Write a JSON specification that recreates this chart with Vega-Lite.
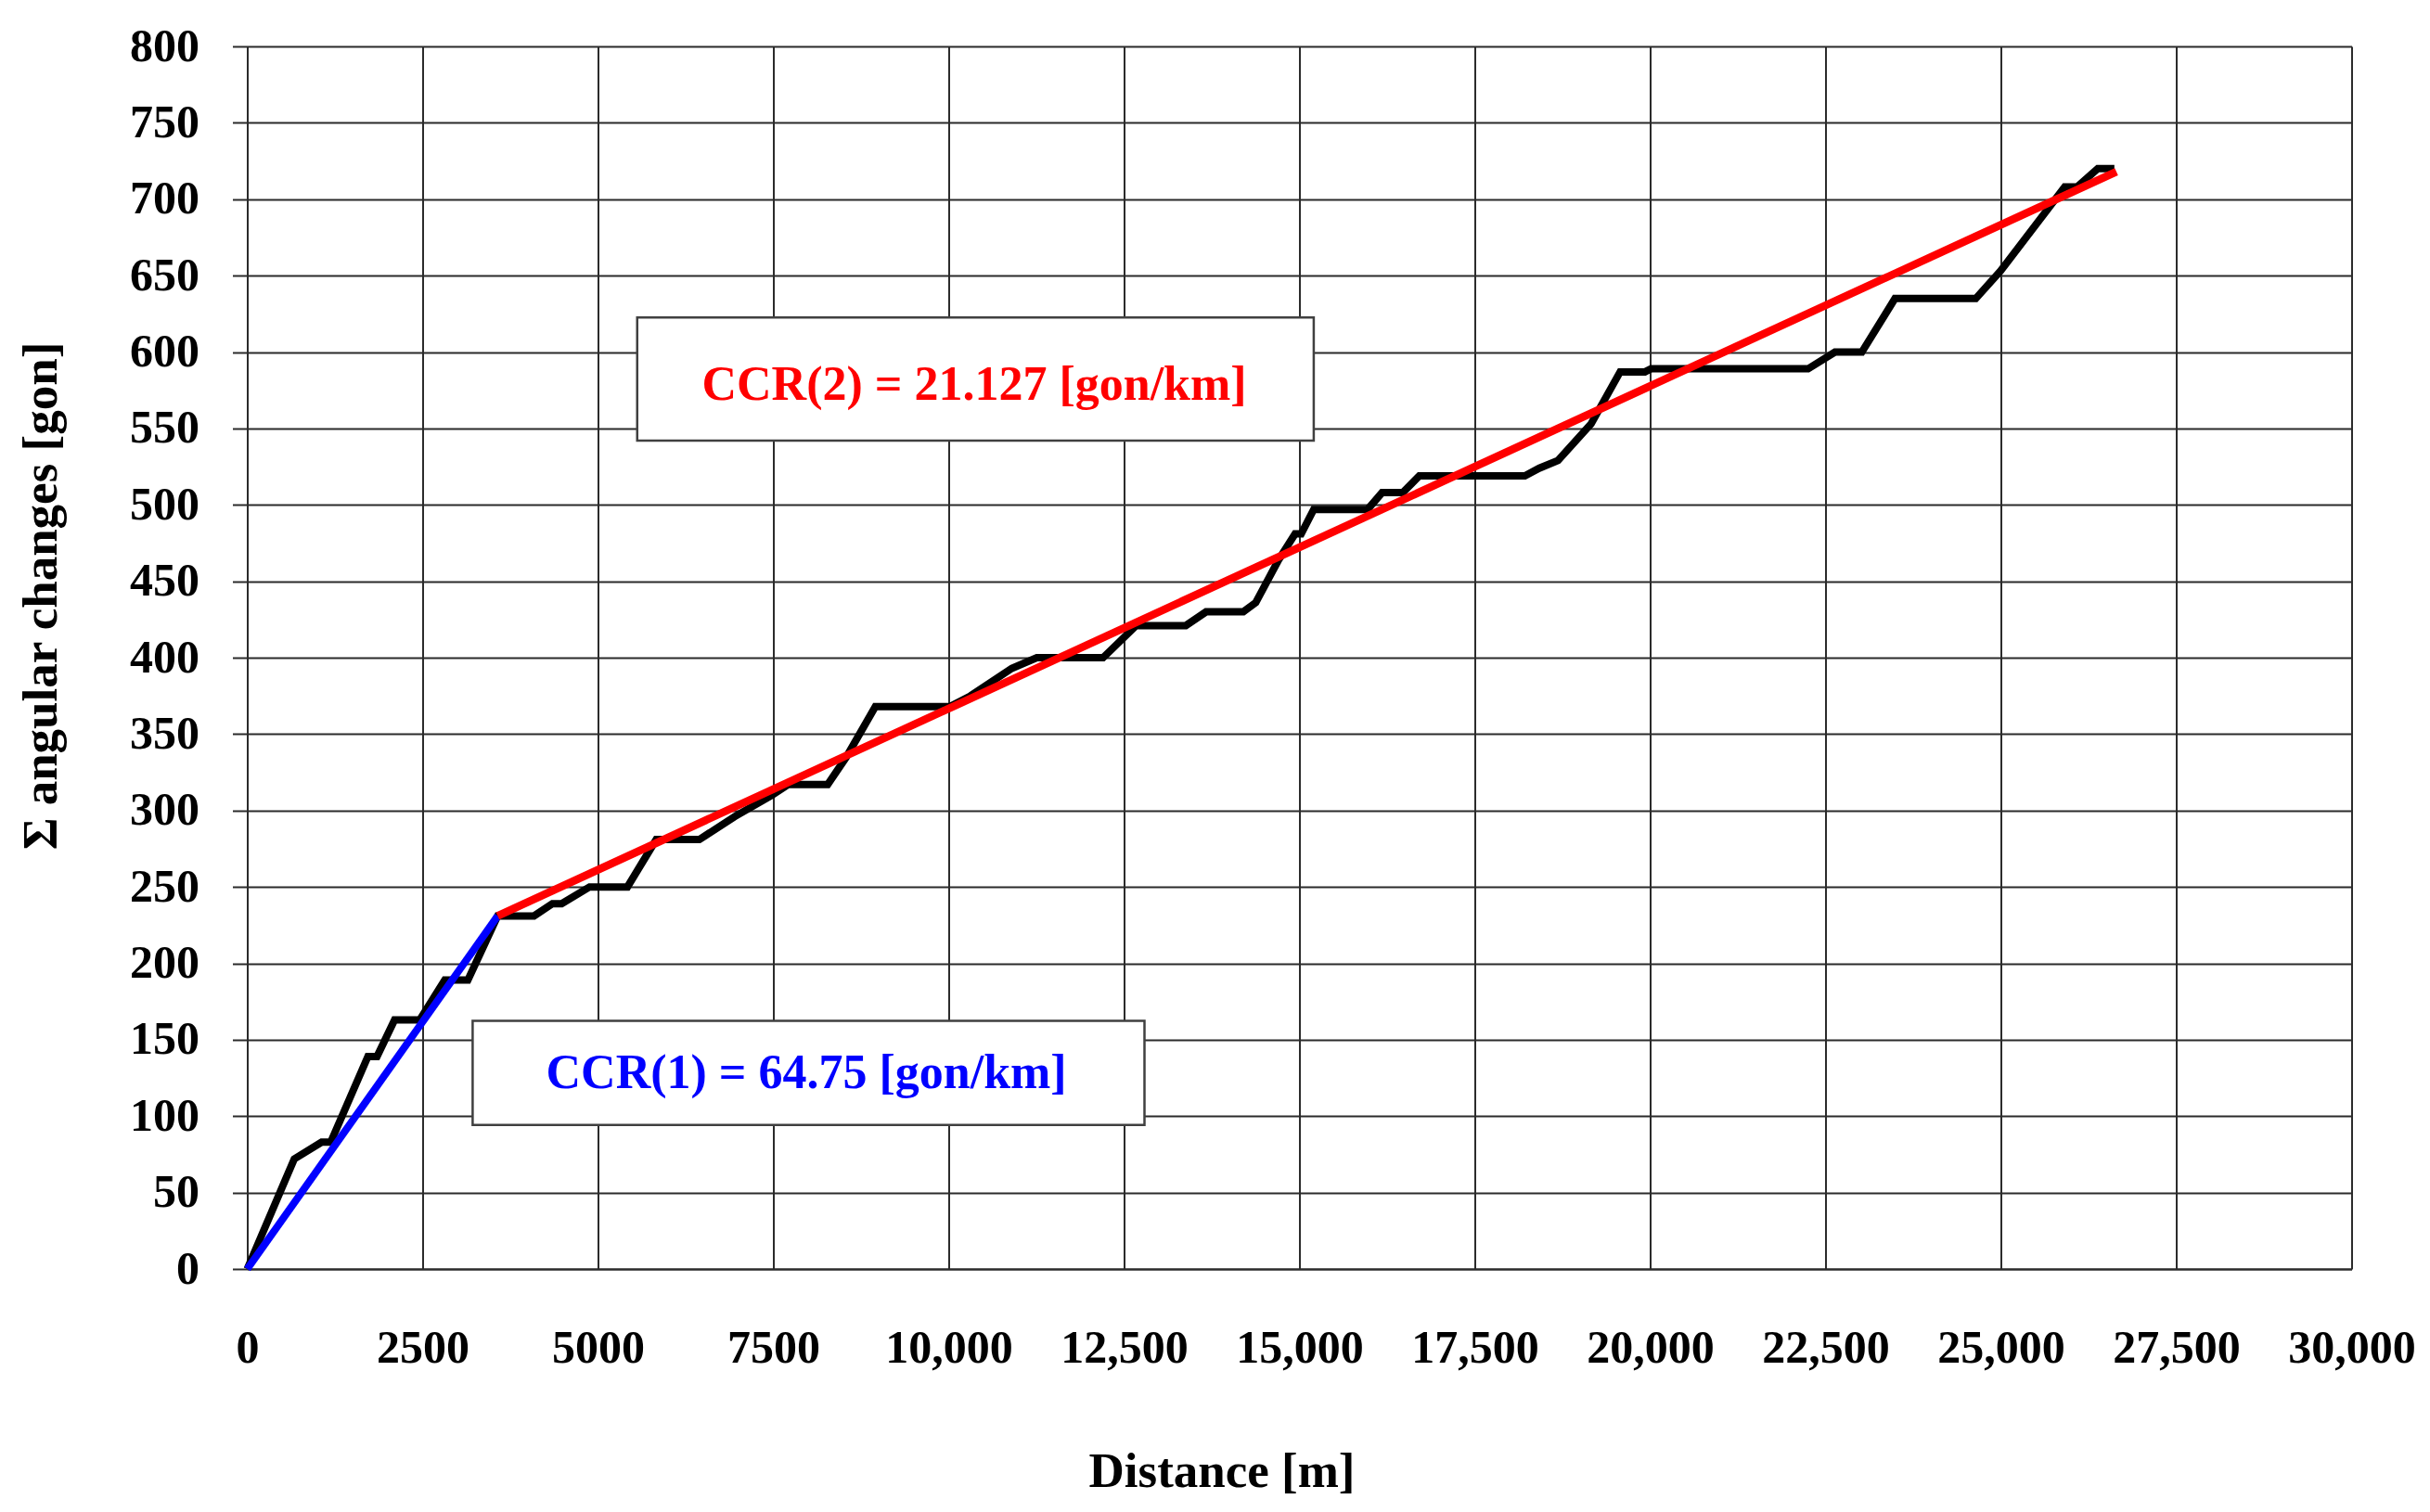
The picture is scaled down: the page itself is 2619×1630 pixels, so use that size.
{
  "$schema": "https://vega.github.io/schema/vega-lite/v6.json",
  "width": 2268,
  "height": 1318,
  "autosize": {"type": "none"},
  "padding": {"left": 266.5, "top": 50, "right": 84.5, "bottom": 262},
  "background": "white",
  "config": {"view": {"stroke": null}, "font": "Liberation Serif"},
  "datasets": {
    "measured": [
      {"d": 0, "v": 0}, {"d": 670, "v": 72}, {"d": 1060, "v": 83}, {"d": 1190, "v": 83},
      {"d": 1720, "v": 139}, {"d": 1850, "v": 139}, {"d": 2100, "v": 163}, {"d": 2460, "v": 163},
      {"d": 2816, "v": 189}, {"d": 3145, "v": 189}, {"d": 3570, "v": 231}, {"d": 4088, "v": 231},
      {"d": 4350, "v": 239}, {"d": 4482, "v": 239}, {"d": 4880, "v": 250}, {"d": 5420, "v": 250},
      {"d": 5830, "v": 281}, {"d": 6445, "v": 281}, {"d": 6948, "v": 296}, {"d": 7478, "v": 310},
      {"d": 7714, "v": 317}, {"d": 8275, "v": 317}, {"d": 8541, "v": 335}, {"d": 8954, "v": 368},
      {"d": 10015, "v": 368}, {"d": 10311, "v": 375}, {"d": 10900, "v": 393}, {"d": 11256, "v": 400},
      {"d": 12200, "v": 400}, {"d": 12672, "v": 421}, {"d": 13380, "v": 421}, {"d": 13669, "v": 430},
      {"d": 14200, "v": 430}, {"d": 14377, "v": 436}, {"d": 14703, "v": 464}, {"d": 14938, "v": 481},
      {"d": 15025, "v": 481}, {"d": 15204, "v": 497}, {"d": 15972, "v": 497}, {"d": 16178, "v": 508},
      {"d": 16473, "v": 508}, {"d": 16709, "v": 519}, {"d": 18214, "v": 519}, {"d": 18420, "v": 524},
      {"d": 18686, "v": 529}, {"d": 19158, "v": 553}, {"d": 19572, "v": 587}, {"d": 19926, "v": 587},
      {"d": 20014, "v": 589}, {"d": 22252, "v": 589}, {"d": 22635, "v": 600}, {"d": 23018, "v": 600},
      {"d": 23490, "v": 635}, {"d": 24642, "v": 635}, {"d": 24994, "v": 653}, {"d": 25910, "v": 708},
      {"d": 26087, "v": 708}, {"d": 26382, "v": 720}, {"d": 26618, "v": 720}
    ],
    "fit1": [{"d": 0, "v": 0}, {"d": 3570, "v": 231}],
    "fit2": [{"d": 3570, "v": 231}, {"d": 26647, "v": 718}],
    "box2": [{"d": 5559, "d2": 15204, "v": 542, "v2": 622.6}],
    "box1": [{"d": 3213, "d2": 12791, "v": 94.3, "v2": 162.3}],
    "text2": [{"d": 10365, "v": 569, "label": "CCR(2) = 21.127 [gon/km]"}],
    "text1": [{"d": 7971, "v": 118.4, "label": "CCR(1) = 64.75 [gon/km]"}]
  },
  "encoding": {
    "x": {
      "field": "d", "type": "quantitative",
      "scale": {"domain": [0, 30000], "nice": false, "zero": false},
      "axis": {
        "values": [0, 2500, 5000, 7500, 10000, 12500, 15000, 17500, 20000, 22500, 25000, 27500, 30000],
        "labelExpr": "datum.value < 10000 ? '' + datum.value : format(datum.value, ',')",
        "ticks": false, "grid": true, "gridColor": "#2b2b2b", "gridWidth": 2, "gridOpacity": 1,
        "domainColor": "#2b2b2b", "domainWidth": 2,
        "labelFont": "Liberation Serif", "labelFontSize": 50, "labelFontWeight": "bold", "labelColor": "black",
        "labelPadding": 60, "labelFlush": false, "labelOverlap": false, "labelBound": false,
        "title": "Distance [m]", "titleFont": "Liberation Serif", "titleFontSize": 53, "titleFontWeight": "bold",
        "titleColor": "black", "titleX": 1050, "titleY": 234, "titleBaseline": "alphabetic", "titleAlign": "center"
      }
    },
    "y": {
      "field": "v", "type": "quantitative",
      "scale": {"domain": [0, 800], "nice": false, "zero": false},
      "axis": {
        "values": [0, 50, 100, 150, 200, 250, 300, 350, 400, 450, 500, 550, 600, 650, 700, 750, 800],
        "ticks": true, "tickSize": 16, "tickColor": "#2b2b2b", "tickWidth": 2,
        "grid": true, "gridColor": "#2b2b2b", "gridWidth": 2, "gridOpacity": 1,
        "domainColor": "#2b2b2b", "domainWidth": 2,
        "labelFont": "Liberation Serif", "labelFontSize": 50, "labelFontWeight": "bold", "labelColor": "black",
        "labelPadding": 36, "labelFlush": false, "labelOverlap": false, "labelBound": false,
        "title": "Σ angular changes [gon]", "titleFont": "Liberation Serif", "titleFontSize": 53, "titleFontWeight": "bold",
        "titleColor": "black", "titleX": -222, "titleY": 592, "titleAngle": -90, "titleBaseline": "middle", "titleAlign": "center"
      }
    }
  },
  "layer": [
    {"data": {"name": "measured"}, "mark": {"type": "line", "color": "black", "strokeWidth": 8, "strokeJoin": "miter"}},
    {"data": {"name": "fit1"}, "mark": {"type": "line", "color": "#0000ff", "strokeWidth": 8}},
    {"data": {"name": "fit2"}, "mark": {"type": "line", "color": "#ff0000", "strokeWidth": 8.5}},
    {"data": {"name": "box2"}, "mark": {"type": "rect", "fill": "white", "stroke": "#404040", "strokeWidth": 2.5},
     "encoding": {"x2": {"field": "d2"}, "y2": {"field": "v2"}}},
    {"data": {"name": "box1"}, "mark": {"type": "rect", "fill": "white", "stroke": "#404040", "strokeWidth": 2.5},
     "encoding": {"x2": {"field": "d2"}, "y2": {"field": "v2"}}},
    {"data": {"name": "text2"}, "mark": {"type": "text", "color": "#ff0000", "font": "Liberation Serif", "fontSize": 52, "fontWeight": "bold", "align": "center", "baseline": "alphabetic"},
     "encoding": {"text": {"field": "label"}}},
    {"data": {"name": "text1"}, "mark": {"type": "text", "color": "#0000ff", "font": "Liberation Serif", "fontSize": 52, "fontWeight": "bold", "align": "center", "baseline": "alphabetic"},
     "encoding": {"text": {"field": "label"}}}
  ]
}
